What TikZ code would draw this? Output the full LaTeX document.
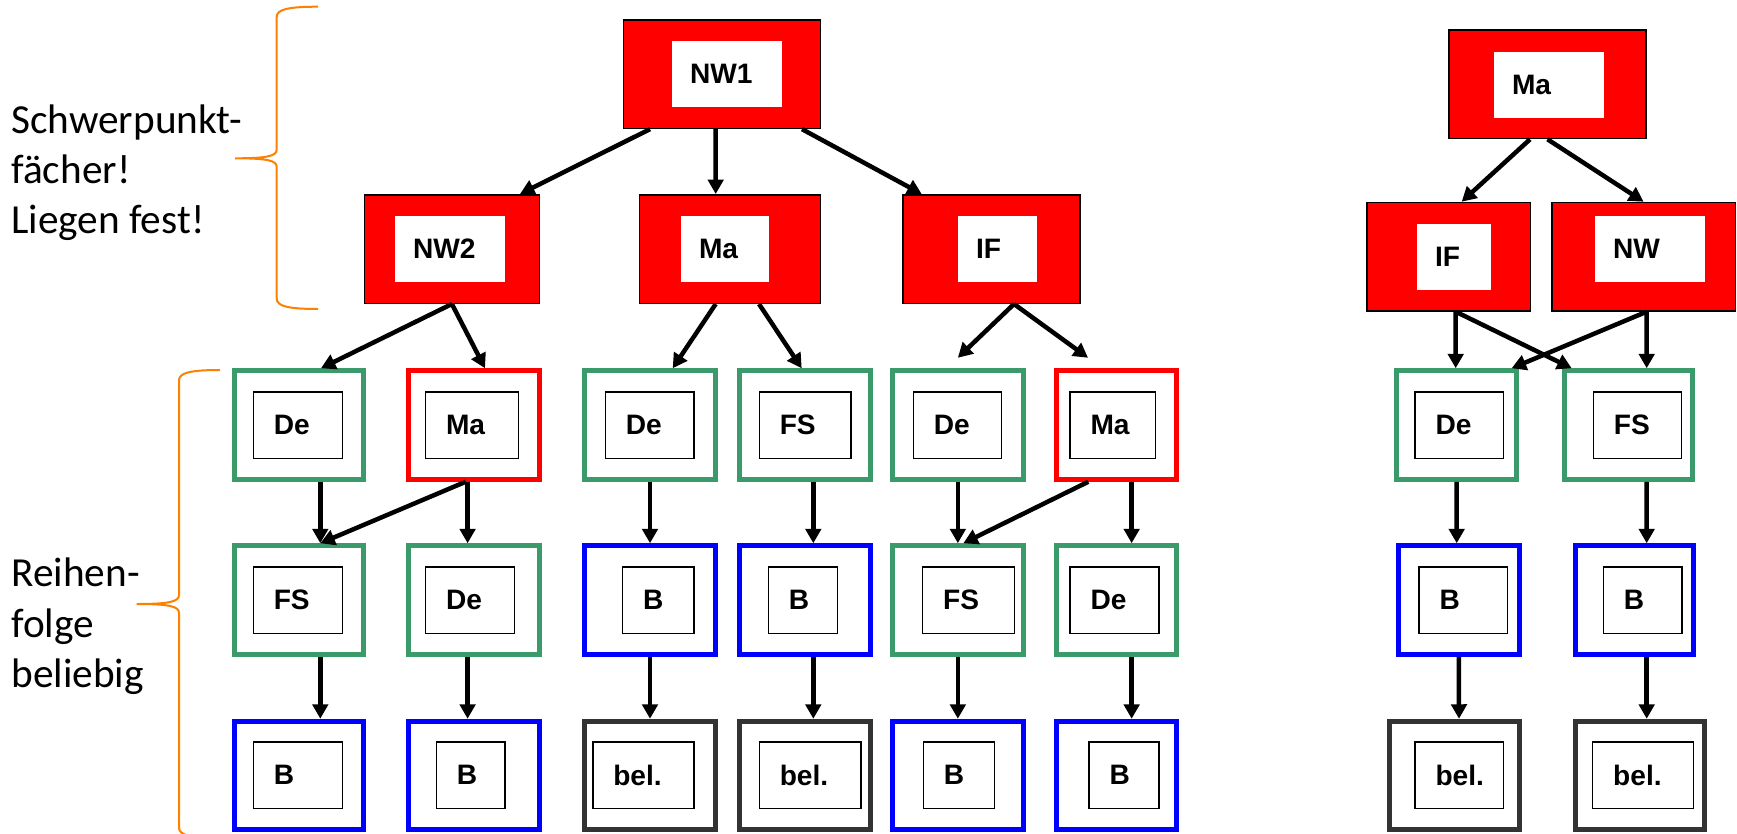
\documentclass[tikz,border=0pt]{standalone}
\usepackage{fontspec}
\setmainfont{Carlito}
\newfontfamily\boxfont{Liberation Sans}
\usepackage{tikz}
\usetikzlibrary{arrows.meta,positioning}
\definecolor{rahmengruen}{RGB}{58,154,106}
\definecolor{rahmengrau}{RGB}{51,51,51}
\definecolor{klammerfarbe}{RGB}{255,128,0}

\begin{document}
\begin{tikzpicture}[x=1mm, y=-1mm,
  every node/.style={inner sep=0pt},
  rot/.style={draw=black, line width=0.3mm, fill=red, minimum height=21.7mm},
  rotin/.style={fill=white, minimum height=13.2mm, inner xsep=3.6mm, align=left, font=\boxfont\fontsize{16pt}{19pt}\selectfont\bfseries},
  rahmen/.style={line width=1mm, fill=white, minimum height=21.7mm},
  gruen/.style={rahmen, draw=rahmengruen},
  rotrand/.style={rahmen, draw=red},
  blau/.style={rahmen, draw=blue},
  grau/.style={rahmen, draw=rahmengrau},
  innen/.style={draw=black, line width=0.3mm, fill=white, minimum height=13.3mm, inner xsep=4.1mm, align=left, font=\boxfont\fontsize{16pt}{19pt}\selectfont\bfseries},
  pfeil/.style={line width=0.9mm, -{Triangle[length=2.9mm,width=3.1mm]}},
  klammer/.style={draw=klammerfarbe, line width=0.4mm},
  seite/.style={align=left, anchor=north west, font=\fontsize{23.5pt}{28.6pt}\selectfont}]
  \useasboundingbox (0,0) rectangle (347.4,166.6);

  % Erlaeuterungen links
  \node[seite] (schwer) at (2.2,20.87) {Schwerpunkt-\\fächer!\\Liegen fest!};
  \node[seite] (reihe) at (2.2,111.55) {Reihen-\\folge\\beliebig};
  \draw[klammer] (63.6,1.34) .. controls (57.5,1.34) and (55.34,1.9) .. (55.34,3.4)
    -- (55.34,29.9) .. controls (55.34,31.2) and (53.5,31.66) .. (47,31.66)
    .. controls (53.5,31.66) and (55.34,32.1) .. (55.34,33.4)
    -- (55.34,59.7) .. controls (55.34,61.2) and (57.5,61.8) .. (63.6,61.8);
  \draw[klammer] (44,74) .. controls (37.9,74) and (35.8,74.6) .. (35.8,76.1)
    -- (35.8,119.0) .. controls (35.8,120.3) and (34,120.8) .. (27.34,120.8)
    .. controls (34,120.8) and (35.8,121.3) .. (35.8,122.6)
    -- (35.8,165.5) .. controls (35.8,167) and (37.9,167.6) .. (44,167.6);

  % Schwerpunktfaecher, linker Baum
  \node[rot, minimum width=39.36mm] (nw1) at (144.37,14.83) {};
  \node[rot, minimum width=34.94mm] (nw2) at (90.38,49.8) {};
  \node[rot, minimum width=36.16mm] (ma) at (145.97,49.8) {};
  \node[rot, minimum width=35.44mm] (inf) at (198.27,49.8) {};
  \node[rotin, text width=14.8mm] (nw1t) at (145.4,14.8) {NW1};
  \node[rotin, text width=14.8mm] (nw2t) at (90,49.8) {NW2};
  \node[rotin, text width=10.4mm] (mat) at (145,49.8) {Ma};
  \node[rotin, text width=8.6mm] (inft) at (199.5,49.8) {IF};

  % Schwerpunktfaecher, rechter Baum
  \node[rot, minimum width=39.38mm] (ma2) at (309.5,16.86) {};
  \node[rot, minimum width=32.7mm] (if2) at (289.7,51.34) {};
  \node[rot, minimum width=36.7mm] (nw3) at (328.7,51.34) {};
  \node[rotin, text width=14.8mm] (ma2t) at (309.8,16.97) {Ma};
  \node[rotin, text width=7.54mm] (if2t) at (290.77,51.37) {IF};
  \node[rotin, text width=14.8mm] (nw3t) at (330,49.77) {NW};

  % erste Reihe
  \node[gruen, minimum width=25.8mm] (a1) at (59.85,85) {};
  \node[rotrand, minimum width=26.3mm] (a2) at (94.79,85) {};
  \node[gruen, minimum width=26.3mm] (a3) at (130,85) {};
  \node[gruen, minimum width=26.2mm] (a4) at (161.06,85) {};
  \node[gruen, minimum width=26.1mm] (a5) at (191.57,85) {};
  \node[rotrand, minimum width=24.1mm] (a6) at (223.33,85) {};
  \node[gruen, minimum width=24.1mm] (a7) at (291.33,85) {};
  \node[gruen, minimum width=25.7mm] (a8) at (325.67,85) {};
  \node[innen, text width=9.64mm] (a1t) at (59.58,85) {De};
  \node[innen, text width=10.4mm] (a2t) at (94.4,85) {Ma};
  \node[innen, text width=9.56mm] (a3t) at (129.96,85) {De};
  \node[innen, text width=10.14mm] (a4t) at (161.03,85) {FS};
  \node[innen, text width=9.48mm] (a5t) at (191.5,85) {De};
  \node[innen, text width=8.94mm] (a6t) at (222.57,85) {Ma};
  \node[innen, text width=9.46mm] (a7t) at (291.83,85) {De};
  \node[innen, text width=9.48mm] (a8t) at (327.5,85) {FS};

  % zweite Reihe
  \node[gruen, minimum width=25.8mm] (b1) at (59.85,120) {};
  \node[gruen, minimum width=26.3mm] (b2) at (94.79,120) {};
  \node[blau, minimum width=26.3mm] (b3) at (130,120) {};
  \node[blau, minimum width=26.2mm] (b4) at (161.06,120) {};
  \node[gruen, minimum width=26.1mm] (b5) at (191.57,120) {};
  \node[gruen, minimum width=24.1mm] (b6) at (223.33,120) {};
  \node[blau, minimum width=24.1mm] (b7) at (291.77,120) {};
  \node[blau, minimum width=23.6mm] (b8) at (326.84,120) {};
  \node[innen, text width=9.64mm] (b1t) at (59.58,120) {FS};
  \node[innen, text width=9.64mm] (b2t) at (94.02,120) {De};
  \node[innen, text width=6.12mm] (b3t) at (131.68,120) {B};
  \node[innen, text width=5.68mm] (b4t) at (160.6,120) {B};
  \node[innen, text width=10.12mm] (b5t) at (193.7,120) {FS};
  \node[innen, text width=9.6mm] (b6t) at (222.9,120) {De};
  \node[innen, text width=9.46mm] (b7t) at (292.63,120) {B};
  \node[innen, text width=7.54mm] (b8t) at (328.53,120) {B};

  % dritte Reihe
  \node[blau, minimum width=25.8mm] (c1) at (59.85,155.1) {};
  \node[blau, minimum width=26.3mm] (c2) at (94.79,155.1) {};
  \node[grau, minimum width=26.3mm] (c3) at (130,155.1) {};
  \node[grau, minimum width=26.2mm] (c4) at (161.06,155.1) {};
  \node[blau, minimum width=26.1mm] (c5) at (191.57,155.1) {};
  \node[blau, minimum width=24.1mm] (c6) at (223.33,155.1) {};
  \node[grau, minimum width=25.9mm] (c7) at (290.9,155.1) {};
  \node[grau, minimum width=25.8mm] (c8) at (327.94,155.1) {};
  \node[innen, text width=9.64mm] (c1t) at (59.58,155) {B};
  \node[innen, text width=5.56mm] (c2t) at (94.14,155) {B};
  \node[innen, text width=12.08mm] (c3t) at (128.7,155) {bel.};
  \node[innen, text width=12.14mm] (c4t) at (162.03,155) {bel.};
  \node[innen, text width=6.0mm] (c5t) at (191.76,155) {B};
  \node[innen, text width=5.8mm] (c6t) at (224.8,155) {B};
  \node[innen, text width=9.46mm] (c7t) at (291.83,155) {bel.};
  \node[innen, text width=11.92mm] (c8t) at (328.6,155) {bel.};

  % Pfeile links
  \draw[pfeil] ([xshift=-14.37mm]nw1.south) -- ([xshift=13.62mm]nw2.north);
  \draw[pfeil] ([xshift=-1.23mm]nw1.south) -- ([xshift=-2.83mm]ma.north);
  \draw[pfeil] ([xshift=16.03mm]nw1.south) -- ([xshift=-13.93mm]inf.north);
  \draw[pfeil] (nw2.south) -- ([xshift=4.35mm]a1.north);
  \draw[pfeil] (nw2.south) -- ([xshift=2.21mm]a2.north);
  \draw[pfeil] ([xshift=-2.83mm]ma.south) -- ([xshift=4.54mm]a3.north);
  \draw[pfeil] ([xshift=5.83mm]ma.south) -- ([xshift=-0.72mm]a4.north);
  \draw[pfeil] ([xshift=4.53mm]inf.south) -- ([yshift=2.1mm]a5.north);
  \draw[pfeil] ([xshift=4.53mm]inf.south) -- ([xshift=-5.73mm,yshift=2.1mm]a6.north);
  \draw[pfeil] ([xshift=4.21mm]a1.south) -- ([xshift=4.21mm]b1.north);
  \draw[pfeil] ([xshift=-1.65mm]a2.south) -- ([xshift=4.21mm]b1.north);
  \draw[pfeil] ([xshift=-1.27mm]a2.south) -- ([xshift=-1.27mm]b2.north);
  \draw[pfeil] (a3.south) -- (b3.north);
  \draw[pfeil] ([xshift=1.6mm]a4.south) -- ([xshift=1.6mm]b4.north);
  \draw[pfeil] (a5.south) -- (b5.north);
  \draw[pfeil] ([xshift=-5.67mm]a6.south) -- ([xshift=1.09mm]b5.north);
  \draw[pfeil] ([xshift=3mm]a6.south) -- ([xshift=3mm]b6.north);
  \draw[pfeil] ([xshift=4.21mm]b1.south) -- ([xshift=4.21mm]c1.north);
  \draw[pfeil] ([xshift=-1.27mm]b2.south) -- ([xshift=-1.27mm]c2.north);
  \draw[pfeil] (b3.south) -- (c3.north);
  \draw[pfeil] ([xshift=1.6mm]b4.south) -- ([xshift=1.6mm]c4.north);
  \draw[pfeil] (b5.south) -- (c5.north);
  \draw[pfeil] ([xshift=3mm]b6.south) -- ([xshift=3mm]c6.north);

  % Pfeile rechts
  \draw[pfeil] ([xshift=-3.5mm]ma2.south) -- ([xshift=2.64mm]if2.north);
  \draw[pfeil] (ma2.south) -- (nw3.north);
  \draw[pfeil] ([xshift=1.44mm]if2.south) -- ([xshift=-0.19mm]a7.north);
  \draw[pfeil] ([xshift=1.44mm]if2.south) -- ([xshift=-11.33mm]a8.north);
  \draw[pfeil] ([xshift=0.64mm]nw3.south) -- ([xshift=11mm]a7.north);
  \draw[pfeil] ([xshift=0.64mm]nw3.south) -- ([xshift=3.67mm]a8.north);
  \draw[pfeil] (a7.south) -- ([xshift=-0.43mm]b7.north);
  \draw[pfeil] (b7.south) -- ([xshift=0.9mm]c7.north);
  \draw[pfeil] ([xshift=3.67mm]a8.south) -- ([xshift=2.5mm]b8.north);
  \draw[pfeil] ([xshift=2.5mm]b8.south) -- ([xshift=1.4mm]c8.north);
\end{tikzpicture}
\end{document}
